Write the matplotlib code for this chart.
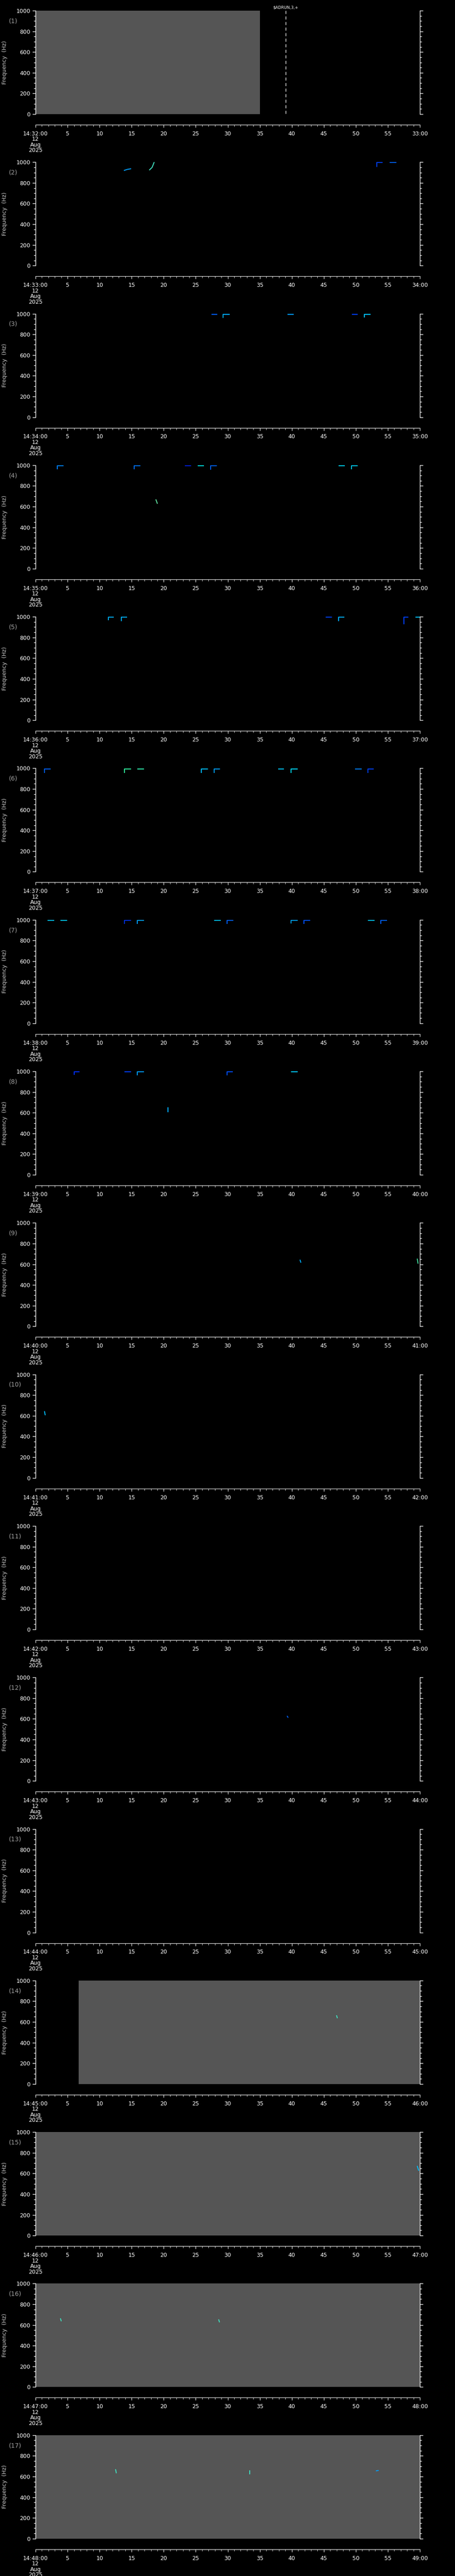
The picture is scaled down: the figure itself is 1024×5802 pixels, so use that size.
import matplotlib
matplotlib.use('Agg')
import matplotlib.pyplot as plt
from matplotlib.ticker import MultipleLocator, FixedLocator

# ---- data ----
start_minute = [32 + i for i in range(17)]       # 14:32 .. 14:48
panel_names = ['(%d)' % (i + 1) for i in range(17)]

# grey (no data) spans per panel: (panel, t_start, t_end) in seconds
gray_panel = [0, 13, 14, 15, 16]
gray_t0 = [0.0, 6.7, 0.0, 0.0, 0.0]
gray_t1 = [35.0, 60.0, 60.0, 60.0, 60.0]

# marker line (panel 1)
marker_t = 39.05
marker_text = '$ADRUN,3,+'

# "Gamma" shaped detections: vertical rise at t0 from f_low to 995 Hz, then flat to t1
g_panel = [1, 1,
           2, 2, 2, 2, 2,
           3, 3, 3, 3, 3, 3, 3,
           4, 4, 4, 4, 4, 4,
           5, 5, 5, 5, 5, 5, 5, 5, 5,
           6, 6, 6, 6, 6, 6, 6, 6, 6, 6,
           7, 7, 7, 7, 7, 7]
g_t0 = [53.25, 55.3,
        27.5, 29.3, 39.3, 49.4, 51.3,
        3.4, 15.4, 23.3, 25.3, 27.3, 47.3, 49.3,
        11.35, 13.4, 45.3, 47.3, 57.5, 59.3,
        1.4, 13.9, 15.9, 25.9, 27.9, 37.9, 39.9, 49.9, 51.9,
        1.9, 3.9, 13.9, 15.9, 27.9, 29.9, 39.9, 41.9, 51.9, 53.9,
        6.0, 13.9, 15.9, 29.9, 39.9]
g_t1 = [54.16, 56.3,
        28.4, 30.3, 40.3, 50.3, 52.3,
        4.4, 16.4, 24.3, 26.3, 28.3, 48.3, 50.3,
        12.2, 14.3, 46.3, 48.2, 58.2, 60.0,
        2.35, 14.9, 16.9, 26.9, 28.8, 38.8, 40.9, 50.9, 52.8,
        2.9, 4.9, 14.9, 16.9, 28.9, 30.9, 40.9, 42.9, 52.9, 54.9,
        6.85, 14.9, 16.9, 30.8, 40.9]
g_flow = [954, 995,
          995, 960, 995, 995, 963,
          960, 960, 995, 995, 958, 995, 963,
          965, 958, 995, 958, 928, 995,
          955, 955, 995, 955, 955, 995, 955, 995, 955,
          995, 995, 960, 960, 995, 960, 963, 960, 995, 960,
          965, 995, 960, 960, 995]
g_color = ['#0040ff', '#0060ff',
           '#0060ff', '#00b0ff', '#00a0ff', '#0040ff', '#00c8ff',
           '#0080ff', '#0070ff', '#0020e0', '#00e0e0', '#0060ff', '#00d0ff', '#00c8ff',
           '#00b0ff', '#00b0ff', '#0040ff', '#00b0ff', '#0040ff', '#00c0ff',
           '#0060ff', '#30f0a0', '#30f0b0', '#00c0ff', '#00a0ff', '#00c8ff', '#00d8ff', '#0080ff', '#0040ff',
           '#00c0ff', '#00c8ff', '#0030e0', '#00a0ff', '#00c0ff', '#0060ff', '#00a0ff', '#0050ff', '#00c0ff', '#0060ff',
           '#0030ff', '#0040ff', '#00a0ff', '#0050ff', '#00d0ff']

# free-form short tracks: (panel, times, freqs, colour)
trk_panel = [1, 1, 3, 7,
             8, 8, 9, 11, 13,
             14, 15, 15, 16, 16, 16]
trk_t = [[13.86, 14.3, 14.85], [17.8, 18.2, 18.5], [18.8, 19.0], [20.7, 20.7],
         [41.3, 41.4], [59.6, 59.7], [1.4, 1.5], [39.3, 39.4], [47.0, 47.1],
         [59.6, 59.8], [3.9, 4.0], [28.6, 28.7], [12.5, 12.6], [33.4, 33.4], [53.2, 53.5]]
trk_f = [[921, 930, 936], [926, 950, 997], [666, 632], [650, 609],
         [640, 620], [650, 610], [640, 610], [625, 615], [660, 640],
         [669, 631], [660, 640], [650, 630], [666, 636], [654, 626], [655, 658]]
trk_color = ['#00a0ff', '#40e0c0', '#60e0a0', '#00b0ff',
             '#00b0ff', '#40e0a0', '#00c0ff', '#0060ff', '#40e0c0',
             '#00c0ff', '#40e0c0', '#40e0c0', '#40e0c0', '#40e0c0', '#00a0ff']

# ---- layout ----
W, H = 1024, 5802
blk = H / 17.0
fig = plt.figure(figsize=(W / 100, H / 100), dpi=100, facecolor='black')

ax_left, ax_w = 80 / W, 865 / W
white = 'white'
grey_txt = '#c8c8c8'

for k in range(17):
    y0 = k * blk
    ax = fig.add_axes([ax_left, 1 - (y0 + 257) / H, ax_w, 233 / H])
    ax.set_facecolor('black')
    ax.set_xlim(0, 60)
    ax.set_ylim(0, 1000)
    for s in ['top', 'bottom']:
        ax.spines[s].set_visible(False)
    for s in ['left', 'right']:
        ax.spines[s].set_color(white)
        ax.spines[s].set_linewidth(1)
    ax.set_xticks([])
    ax.yaxis.set_major_locator(MultipleLocator(200))
    ax.yaxis.set_minor_locator(MultipleLocator(50))
    ax.tick_params(axis='y', which='both', direction='out', colors=white,
                   left=True, right=True, labelsize=9, width=1)
    ax.tick_params(axis='y', which='major', length=5)
    ax.tick_params(axis='y', which='minor', length=3)
    ax.set_ylabel('Frequency  (Hz)', color=grey_txt, fontsize=9, labelpad=14)
    ax.text(-0.07, 0.90, panel_names[k], transform=ax.transAxes, color='#a0a0a0',
            fontsize=10, ha='left', va='center')

    for p, a, b in zip(gray_panel, gray_t0, gray_t1):
        if p == k:
            ax.axvspan(a, b, ymin=0, ymax=1, color='#555555', lw=0, zorder=0)

    if k == 0:
        ax.vlines(marker_t, 5, 1000, colors=white, linestyles=(0, (5, 4)), lw=1)
        ax.text(marker_t, 1010, marker_text, color=white, fontsize=6.5,
                ha='center', va='bottom', clip_on=False)

    for p, a, b, fl, c in zip(g_panel, g_t0, g_t1, g_flow, g_color):
        if p == k:
            ax.plot([a, a, b], [fl, 995, 995], color=c, lw=1.5, solid_capstyle='butt')
    for p, ts, fs, c in zip(trk_panel, trk_t, trk_f, trk_color):
        if p == k:
            ax.plot(ts, fs, color=c, lw=1.5)

    # time axis below
    tx = fig.add_axes([ax_left, 1 - (y0 + 281) / H, ax_w, 0.5 / H])
    tx.set_facecolor('none')
    tx.set_xlim(0, 60)
    tx.set_yticks([])
    for s in ['top', 'left', 'right']:
        tx.spines[s].set_visible(False)
    tx.spines['bottom'].set_color(white)
    tx.xaxis.set_major_locator(FixedLocator(range(0, 61, 5)))
    tx.xaxis.set_minor_locator(MultipleLocator(1))
    m = start_minute[k]
    labels = ['14:%02d:00\n12\nAug\n2025' % m] + [str(s) for s in range(5, 60, 5)] + ['%02d:00' % (m + 1)]
    tx.set_xticklabels(labels)
    tx.tick_params(axis='x', which='both', direction='out', colors=white, labelsize=9,
                   pad=6)
    tx.tick_params(axis='x', which='major', length=4)
    tx.tick_params(axis='x', which='minor', length=3)
    for lab in tx.get_xticklabels():
        lab.set_linespacing(0.95)

fig.savefig('out.png', dpi=100, facecolor='black')
